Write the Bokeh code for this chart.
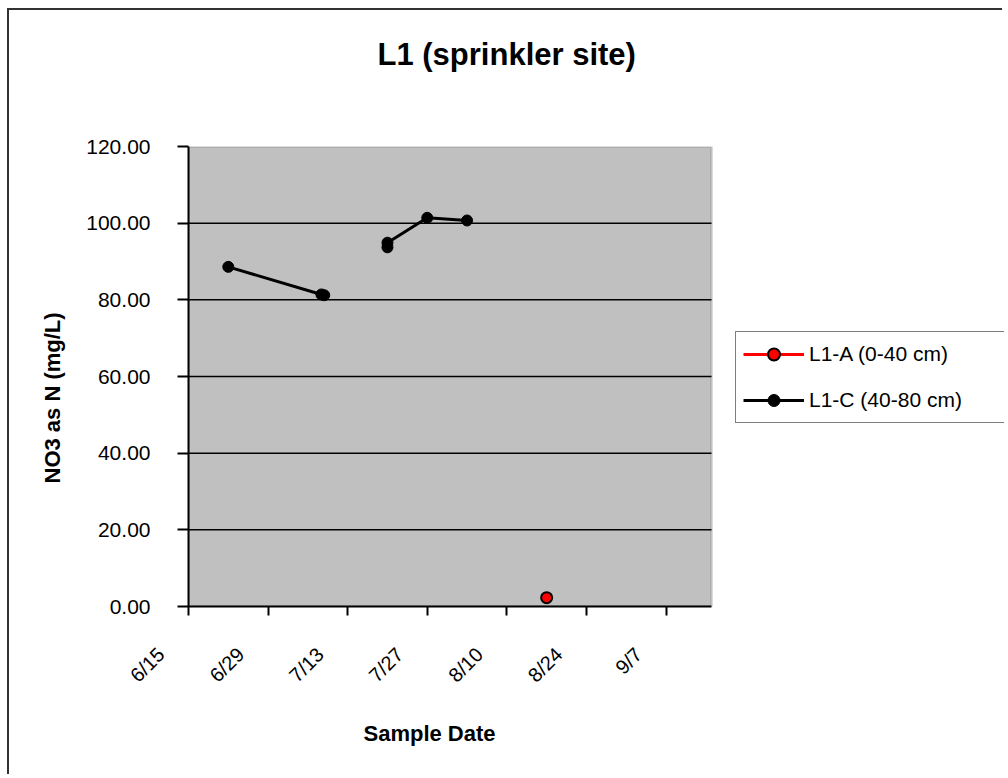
import math
import numpy as np
import pandas as pd
from bokeh.plotting import figure
from bokeh.models import (Range1d, FixedTicker, DatetimeTickFormatter, Legend,
                          LegendItem, NumeralTickFormatter, ColumnDataSource, Title,
                          BoxAnnotation)
from bokeh.embed import file_html
from bokeh.resources import INLINE

# ---- data ----
title_text = "L1 (sprinkler site)"
x_label = "Sample Date"
y_label = "NO3 as N (mg/L)"

a_name = "L1-A (0-40 cm)"
a_dates = ["2003-08-17T00:00"]
a_values = [2.3]

c_name = "L1-C (40-80 cm)"
c_dates = ["2003-06-22T00:00", "2003-07-08T09:00", "2003-07-08T21:00", "2003-07-14T00:00",
           "2003-07-20T00:00", "2003-07-20T00:00", "2003-07-27T00:00", "2003-08-03T00:00"]
c_values = [88.6, 81.4, 81.2, np.nan, 93.7, 94.9, 101.4, 100.7]

x_start = "2003-06-15"
x_end = "2003-09-15"
x_tick_dates = ["2003-06-15", "2003-06-29", "2003-07-13", "2003-07-27",
                "2003-08-10", "2003-08-24", "2003-09-07"]
y_ticks = [0, 20, 40, 60, 80, 100, 120]

FONT = "Liberation Sans"
NB = "\u00a0" * 7

# layout: plot area 523 px wide; the frame continues to the right edge (816 px)
PLOT_W, FRAME_W = 523, 816
t0 = pd.Timestamp(x_start)
t1 = pd.Timestamp(x_end)
t_frame_end = t0 + (t1 - t0) * (FRAME_W / PLOT_W)
ms = lambda t: pd.Timestamp(t).value / 1e6

src_a = ColumnDataSource(dict(x=pd.to_datetime(a_dates, format="ISO8601"), y=a_values))
src_c = ColumnDataSource(dict(x=pd.to_datetime(c_dates, format="ISO8601"), y=c_values))

p = figure(width=995, height=766, output_backend="svg", toolbar_location=None,
           title=None,
           x_axis_type="datetime",
           x_range=Range1d(t0, t_frame_end),
           y_range=Range1d(y_ticks[0], y_ticks[-1]),
           min_border_left=179, min_border_right=0,
           min_border_top=136, min_border_bottom=170,
           background_fill_color="white", border_fill_color="white",
           outline_line_color=None,
           styles={"margin-left": "7px", "margin-top": "8px",
                   "border-left": "2px solid #333333",
                   "border-top": "2px solid #333333"})

# plot area (grey) with grey top/right border
p.add_layout(BoxAnnotation(left=ms(t0), right=ms(t1), bottom=y_ticks[0], top=y_ticks[-1],
                           fill_color="#C0C0C0", fill_alpha=1.0,
                           line_color="#808080", line_width=3, level="underlay"))

# titles: spacer next to the frame first, then the chart title outside it
p.add_layout(Title(text="\u00a0", text_font_size="1px", standoff=72), "above")
p.add_layout(Title(text=title_text, text_font=FONT, text_font_size="31px",
                   text_font_style="bold", text_color="black",
                   align="left", offset=189, standoff=0,
                   vertical_align="bottom"), "above")

p.add_layout(Title(text=x_label, text_font=FONT, text_font_size="22px",
                   text_font_style="bold", text_color="black",
                   align="left", offset=175, standoff=46,
                   vertical_align="top"), "below")
p.add_layout(Title(text=y_label, text_font=FONT, text_font_size="22px",
                   text_font_style="bold", text_color="black",
                   align="left", offset=123, standoff=38,
                   vertical_align="bottom"), "left")

# horizontal grid lines inside the plot area
p.xgrid.visible = False
p.ygrid.visible = False
grid_y = y_ticks[1:-1]
p.segment(x0=[t0] * len(grid_y), x1=[t1] * len(grid_y), y0=grid_y, y1=grid_y,
          line_color="black", line_width=1.5)

# axes
x_ticks_ms = [pd.Timestamp(d).value // 10**6 for d in x_tick_dates]
p.xaxis.ticker = FixedTicker(ticks=x_ticks_ms)
p.xaxis.bounds = (ms(t0), ms(t1))
p.xaxis.formatter = DatetimeTickFormatter(days="%-m/%-d" + NB, months="%-m/%-d" + NB)
p.xaxis.major_label_orientation = math.pi / 4
p.yaxis.ticker = FixedTicker(ticks=y_ticks)
p.yaxis.formatter = NumeralTickFormatter(format="0.00")

for ax in (p.xaxis[0], p.yaxis[0]):
    ax.axis_line_color = "black"
    ax.axis_line_width = 2
    ax.major_tick_line_color = "black"
    ax.major_tick_line_width = 2
    ax.major_tick_in = 0
    ax.minor_tick_line_color = None
    ax.major_label_text_font = FONT
    ax.major_label_text_font_size = "21px"
    ax.major_label_text_color = "black"

p.xaxis.major_label_text_font_size = "20px"
p.yaxis.major_tick_out = 11
p.yaxis.major_label_standoff = 27
p.xaxis.major_tick_out = 9
p.xaxis.major_label_standoff = 8

# series
line_a = p.line("x", "y", source=src_a, line_color="red", line_width=3)
pts_a = p.scatter("x", "y", source=src_a, marker="circle", size=11,
                  fill_color="red", line_color="black", line_width=2)
line_c = p.line("x", "y", source=src_c, line_color="black", line_width=3)
pts_c = p.scatter("x", "y", source=src_c, marker="circle", size=11,
                  fill_color="black", line_color="black", line_width=1)

legend = Legend(items=[LegendItem(label=a_name, renderers=[line_a, pts_a]),
                       LegendItem(label=c_name, renderers=[line_c, pts_c])],
                location=(547, 183),
                orientation="vertical",
                padding=7, spacing=16, margin=0,
                glyph_width=61, glyph_height=30, label_height=24,
                label_width=188, label_standoff=5,
                label_text_font=FONT, label_text_font_size="21px",
                label_text_color="black",
                border_line_color="black", border_line_width=1.5,
                background_fill_color="white", background_fill_alpha=1.0)
p.add_layout(legend, "center")

open("out.html", "w").write(file_html(p, INLINE))
